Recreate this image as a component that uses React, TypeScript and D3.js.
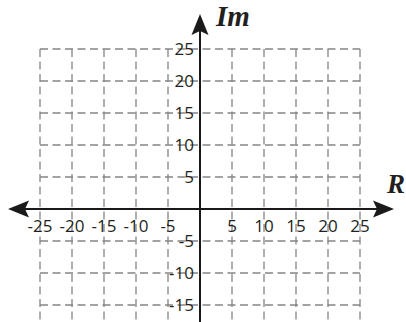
import React, { useEffect, useRef } from 'react';
import * as d3 from 'd3';

// axis ticks (complex plane, step 5)
const xTicks = [-25, -20, -15, -10, -5, 5, 10, 15, 20, 25];
const yTicks = [25, 20, 15, 10, 5, -5, -10, -15];
const gridX = [-25, -20, -15, -10, -5, 5, 10, 15, 20, 25];
const gridY = [25, 20, 15, 10, 5, -5, -10, -15];
const axisLabels = { real: 'R', imag: 'Im' };

const W = 406;
const H = 322;

const App = () => {
  const svgRef = useRef<SVGSVGElement | null>(null);

  useEffect(() => {
    const svg = d3.select(svgRef.current);
    svg.selectAll('*').remove();

    const x = d3.scaleLinear().domain([-25, 25]).range([40, 360]);
    const y = d3.scaleLinear().domain([25, -25]).range([49, 369]);

    const gridColor = '#858585';

    // dashed grid
    svg.append('g')
      .selectAll('line')
      .data(gridX)
      .enter()
      .append('line')
      .attr('x1', d => x(d))
      .attr('x2', d => x(d))
      .attr('y1', y(25))
      .attr('y2', H)
      .attr('stroke', gridColor)
      .attr('stroke-width', 1.3)
      .attr('stroke-dasharray', '8,4.5');

    svg.append('g')
      .selectAll('line')
      .data(gridY)
      .enter()
      .append('line')
      .attr('x1', x(-25))
      .attr('x2', x(25))
      .attr('y1', d => y(d))
      .attr('y2', d => y(d))
      .attr('stroke', gridColor)
      .attr('stroke-width', 1.3)
      .attr('stroke-dasharray', '8,4.5');

    const x0 = x(0);
    const y0 = y(0);

    // real axis
    svg.append('line')
      .attr('x1', 14).attr('x2', 380)
      .attr('y1', y0).attr('y2', y0)
      .attr('stroke', '#1a1a1a').attr('stroke-width', 2);
    // imaginary axis
    svg.append('line')
      .attr('x1', x0).attr('x2', x0)
      .attr('y1', 26).attr('y2', H)
      .attr('stroke', '#1a1a1a').attr('stroke-width', 2);

    // arrowheads
    const arrow = (tx: number, ty: number, angle: number) => {
      const len = 21, half = 8.5, notch = 4;
      const c = Math.cos(angle), s = Math.sin(angle);
      const pt = (a: number, b: number) => [tx - a * c - b * -s, ty - a * s - b * c];
      const p1 = pt(len, half);
      const p2 = pt(len - notch, 0);
      const p3 = pt(len, -half);
      svg.append('path')
        .attr('d', `M${tx},${ty}L${p1[0]},${p1[1]}L${p2[0]},${p2[1]}L${p3[0]},${p3[1]}Z`)
        .attr('fill', '#1a1a1a');
    };
    arrow(394, y0, 0);
    arrow(8, y0, Math.PI);
    arrow(x0, 14, -Math.PI / 2);

    const font = '"Open Sans", "DejaVu Sans", sans-serif';

    svg.append('g')
      .selectAll('text')
      .data(xTicks)
      .enter()
      .append('text')
      .attr('x', d => x(d))
      .attr('y', y0 + 23)
      .attr('text-anchor', 'middle')
      .attr('font-family', font)
      .attr('font-size', 17)
      .attr('fill', '#231f20')
      .text(d => d);

    svg.append('g')
      .selectAll('text')
      .data(yTicks)
      .enter()
      .append('text')
      .attr('x', x0 - 6)
      .attr('y', d => y(d) + 6)
      .attr('text-anchor', 'end')
      .attr('font-family', font)
      .attr('font-size', 17)
      .attr('fill', '#231f20')
      .text(d => d);

    svg.append('text')
      .attr('x', 216)
      .attr('y', 26)
      .attr('font-family', '"Liberation Serif", "DejaVu Serif", serif')
      .attr('font-style', 'italic')
      .attr('font-weight', 'bold')
      .attr('font-size', 29)
      .attr('fill', '#231f20')
      .text(axisLabels.imag);

    svg.append('text')
      .attr('x', 387)
      .attr('y', 193)
      .attr('font-family', '"Liberation Serif", "DejaVu Serif", serif')
      .attr('font-style', 'italic')
      .attr('font-weight', 'bold')
      .attr('font-size', 27)
      .attr('fill', '#231f20')
      .text(axisLabels.real);
  }, []);

  return (
    <div style={{ position: 'absolute', left: 0, top: 0, width: W, height: H, background: '#fff' }}>
      <svg ref={svgRef} width={W} height={H} style={{ display: 'block' }} />
    </div>
  );
};

export default App;
